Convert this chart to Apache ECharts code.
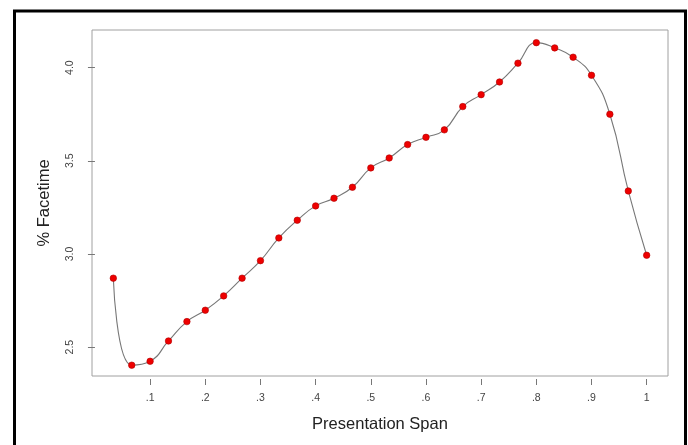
<!DOCTYPE html>
<html>
<head>
<meta charset="utf-8">
<script src="https://cdn.jsdelivr.net/npm/echarts@6/dist/echarts.min.js"></script>
<style>
html,body{margin:0;padding:0;background:#fff;}
#chart{width:688px;height:445px;}
</style>
</head>
<body>
<div id="chart"></div>
<script>
// Presentation span (x) values
var spanValues = [0.0333, 0.0667, 0.1, 0.1333, 0.1667, 0.2, 0.2333, 0.2667, 0.3, 0.3333,
                  0.3667, 0.4, 0.4333, 0.4667, 0.5, 0.5333, 0.5667, 0.6, 0.6333, 0.6667,
                  0.7, 0.7333, 0.7667, 0.8, 0.8333, 0.8667, 0.9, 0.9333, 0.9667, 1.0];
// % Facetime (y) values
var facetimeValues = [2.870, 2.403, 2.424, 2.533, 2.637, 2.698, 2.775, 2.870, 2.964, 3.086,
                      3.181, 3.258, 3.299, 3.358, 3.462, 3.515, 3.587, 3.626, 3.666, 3.791,
                      3.855, 3.923, 4.024, 4.134, 4.106, 4.056, 3.959, 3.750, 3.338, 2.993];
// Tick values and labels
var xTickValues = [0.1, 0.2, 0.3, 0.4, 0.5, 0.6, 0.7, 0.8, 0.9, 1.0];
var xTickLabels = ['.1', '.2', '.3', '.4', '.5', '.6', '.7', '.8', '.9', '1'];
var yTickValues = [2.5, 3.0, 3.5, 4.0];
var yTickLabels = ['2.5', '3.0', '3.5', '4.0'];

var points = spanValues.map(function (x, i) { return [x, facetimeValues[i]]; });

var FONT = '"Liberation Sans", Arial, Helvetica, sans-serif';

function labelFor(values, labels) {
  return function (v) {
    for (var i = 0; i < values.length; i++) {
      if (Math.abs(values[i] - v) < 1e-6) return labels[i];
    }
    return '';
  };
}

var chart = echarts.init(document.getElementById('chart'), null, {renderer: 'canvas'});
chart.setOption({
  animation: false,
  backgroundColor: '#ffffff',
  graphic: [{
    type: 'rect',
    silent: true,
    shape: {x: 14.5, y: 11, width: 671, height: 470},
    style: {fill: 'none', stroke: '#000000', lineWidth: 3}
  }],
  grid: {
    left: 92, top: 30, width: 576, height: 346,
    show: true, borderColor: '#a0a0a0', borderWidth: 1, backgroundColor: 'transparent'
  },
  xAxis: {
    type: 'value',
    min: -0.00533, max: 1.03867,
    offset: 3,
    axisLine: {show: false},
    splitLine: {show: false},
    axisTick: {show: true, customValues: xTickValues, length: 6, lineStyle: {color: '#777', width: 1}},
    axisLabel: {
      customValues: xTickValues,
      formatter: labelFor(xTickValues, xTickLabels),
      margin: 14, color: '#444', fontSize: 10.5, fontFamily: FONT
    },
    name: 'Presentation Span',
    nameLocation: 'middle',
    nameGap: 37,
    nameTextStyle: {color: '#222', fontSize: 16.5, fontFamily: FONT}
  },
  yAxis: {
    type: 'value',
    min: 2.345, max: 4.202,
    axisLine: {show: false},
    splitLine: {show: false},
    axisTick: {show: true, customValues: yTickValues, length: 7, lineStyle: {color: '#777', width: 1}},
    axisLabel: {
      customValues: yTickValues,
      formatter: labelFor(yTickValues, yTickLabels),
      rotate: 90,
      margin: 16, color: '#444', fontSize: 10.5, fontFamily: FONT
    },
    name: '% Facetime',
    nameLocation: 'middle',
    nameRotate: 90,
    nameGap: 39,
    nameTextStyle: {color: '#222', fontSize: 16.5, fontFamily: FONT}
  },
  series: [{
    type: 'line',
    data: points,
    smooth: true,
    symbol: 'circle',
    symbolSize: 6.5,
    showAllSymbol: true,
    lineStyle: {color: '#777777', width: 1.1},
    itemStyle: {color: '#ee0000', borderColor: '#b00000', borderWidth: 0.6}
  }]
});
</script>
</body>
</html>
